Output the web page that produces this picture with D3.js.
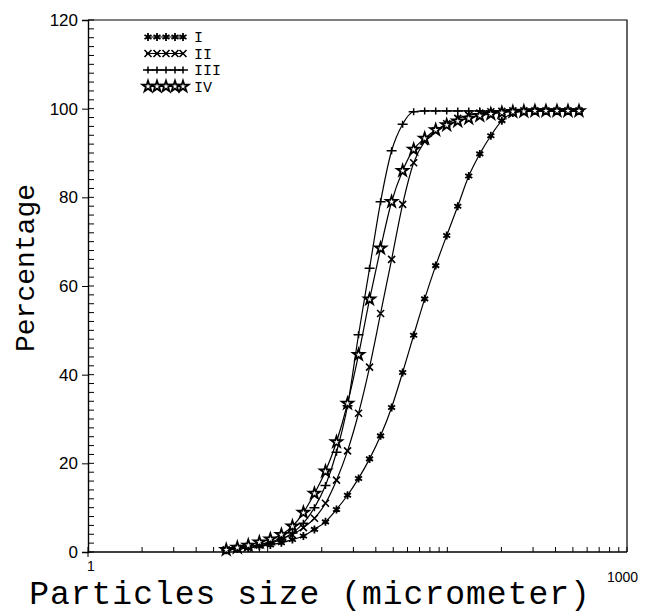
<!DOCTYPE html>
<html><head><meta charset="utf-8">
<script src="https://cdn.jsdelivr.net/npm/d3@7"></script>
<style>body{margin:0;background:#fff}</style>
</head><body><svg id="c" width="654" height="613"></svg>
<script>
// particle size bins (micrometer)
const sizes = [5.88,6.78,7.80,8.99,10.35,11.92,13.73,15.81,18.21,20.98,24.16,27.83,32.05,36.91,42.51,48.96,56.39,64.95,74.80,86.15,99.22,114.3,131.6,151.6,174.6,201.1,231.6,266.7,307.2,353.8,407.5,469.3,540.5];
const seriesNames = ["I","II","III","IV"];
const seriesI   = [0.4,0.7,0.9,1.3,1.6,2.1,2.8,3.6,5.1,6.8,9.6,12.8,16.6,21.0,26.2,32.6,40.5,48.9,57.1,64.6,71.4,78.0,84.8,89.8,93.9,97.3,99.0,99.4,99.5,99.5,99.5,99.5,99.5];
const seriesII  = [0.5,0.8,1.2,1.7,2.3,3.0,3.9,5.5,7.6,11.0,16.2,22.8,31.3,41.7,53.8,66.0,78.4,87.8,92.6,95.0,96.6,97.8,98.5,99.0,99.3,99.4,99.5,99.5,99.5,99.5,99.5,99.5,99.5];
const seriesIII = [0.4,0.7,1.0,1.4,2.0,2.9,4.3,6.5,10.0,15.0,22.5,33.0,49.0,64.0,79.0,90.5,96.5,99.3,99.5,99.5,99.5,99.5,99.5,99.5,99.5,99.5,99.5,99.5,99.5,99.5,99.5,99.5,99.5];
const seriesIV  = [0.5,1.0,1.5,2.2,2.9,3.9,5.8,8.9,13.2,18.2,24.8,33.5,44.5,57.0,68.5,79.0,86.0,90.8,93.3,95.2,96.3,97.2,97.8,98.4,98.8,99.1,99.3,99.4,99.5,99.5,99.5,99.5,99.5];
const yTicks = [0,20,40,60,80,100,120];
const xTickLabels = [1,1000];

const svg = d3.select("#c");
const x = d3.scaleLog().domain([1,1000]).range([88,627]);
const y = d3.scaleLinear().domain([0,120]).range([552,20]);

const mono = "'Courier New','Liberation Mono',monospace";
const sans = "'Liberation Sans',Arial,Helvetica,sans-serif";

// frame
svg.append("path").attr("d",`M${x(1)},${y(120)}H${x(1000)}V${y(0)}`)
  .attr("fill","none").attr("stroke","#000").attr("stroke-width",1.2);

// y axis
const yAxis = d3.axisLeft(y).tickValues(yTicks).tickSize(6).tickPadding(4).tickFormat(d3.format("d"));
const gy = svg.append("g").attr("transform",`translate(${x(1)},0)`).call(yAxis);
gy.select(".domain").attr("stroke-width",1.4);
gy.selectAll("text").attr("font-family",sans).attr("font-size",17);
// minor y ticks (inside)
const yMinor = d3.range(0,121,2);
svg.append("g").selectAll("line").data(yMinor).join("line")
  .attr("x1",x(1)).attr("x2",x(1)+6).attr("y1",d=>y(d)).attr("y2",d=>y(d))
  .attr("stroke","#000").attr("stroke-width",1);

// x axis
const xMinor = [];
[1,10,100].forEach(dec=>{for(let k=1;k<10;k++) xMinor.push(dec*k);});
xMinor.push(1000);
svg.append("g").selectAll("line").data(xMinor).join("line")
  .attr("x1",d=>x(d)).attr("x2",d=>x(d)).attr("y1",y(0)).attr("y2",y(0)-5)
  .attr("stroke","#000").attr("stroke-width",1);
svg.append("line").attr("x1",x(1)).attr("x2",x(1000)).attr("y1",y(0)).attr("y2",y(0))
  .attr("stroke","#000").attr("stroke-width",1.6);
svg.append("line").attr("x1",x(1)).attr("x2",x(1)).attr("y1",y(0)).attr("y2",y(0)+5)
  .attr("stroke","#000").attr("stroke-width",1);
svg.append("text").attr("x",x(1)+3).attr("y",y(0)+19).attr("text-anchor","middle")
  .attr("font-family",sans).attr("font-size",14).text(xTickLabels[0]);
svg.append("text").attr("x",x(1000)-20).attr("y",y(0)+30).attr("text-anchor","start")
  .attr("font-family",sans).attr("font-size",14).text(xTickLabels[1]);

// titles
svg.append("text").attr("x",310).attr("y",604).attr("text-anchor","middle")
  .attr("font-family",mono).attr("font-size",33).attr("letter-spacing",1).text("Particles size (micrometer)");
svg.append("text").attr("transform","translate(34,268) rotate(-90)").attr("text-anchor","middle")
  .attr("font-family",mono).attr("font-size",28).text("Percentage");

// markers
function drawMarker(g, type){
  if(type==="I"){
    g.append("path").attr("d","M0,-4V4M-3.5,-2L3.5,2M-3.5,2L3.5,-2").attr("stroke","#000").attr("stroke-width",1.8);
    g.append("circle").attr("r",2).attr("fill","#000");
  } else if(type==="II"){
    g.append("path").attr("d","M-3.5,-3.5L3.5,3.5M-3.5,3.5L3.5,-3.5").attr("stroke","#000").attr("stroke-width",1.6);
  } else if(type==="III"){
    g.append("path").attr("d","M-5,0H5M0,-3.5V3.5").attr("stroke","#000").attr("stroke-width",1.5);
  } else {
    g.append("path").attr("d",d3.symbol(d3.symbolStar,38)()).attr("fill","#fff").attr("stroke","#000").attr("stroke-width",1.8);
  }
}

const allSeries = [seriesI,seriesII,seriesIII,seriesIV];
const line = d3.line().x((d,i)=>x(sizes[i])).y(d=>y(d)).curve(d3.curveMonotoneX);
allSeries.forEach((vals,si)=>{
  svg.append("path").attr("d",line(vals)).attr("fill","none").attr("stroke","#000").attr("stroke-width",1.2);
});
allSeries.forEach((vals,si)=>{
  const g = svg.append("g");
  vals.forEach((v,i)=>{
    const m = g.append("g").attr("transform",`translate(${x(sizes[i])},${y(v)})`);
    drawMarker(m, seriesNames[si]);
  });
});

// legend
const leg = svg.append("g");
seriesNames.forEach((n,i)=>{
  const ly = 37 + i*16.5;
  leg.append("line").attr("x1",146).attr("x2",183).attr("y1",ly).attr("y2",ly).attr("stroke","#000").attr("stroke-width",1.2);
  [148,157,166,175,183].forEach(lx=>{
    const m = leg.append("g").attr("transform",`translate(${lx},${ly})`);
    drawMarker(m, n);
  });
  leg.append("text").attr("x",194).attr("y",ly+5).attr("font-family",mono).attr("font-size",15).text(n);
});
</script></body></html>
